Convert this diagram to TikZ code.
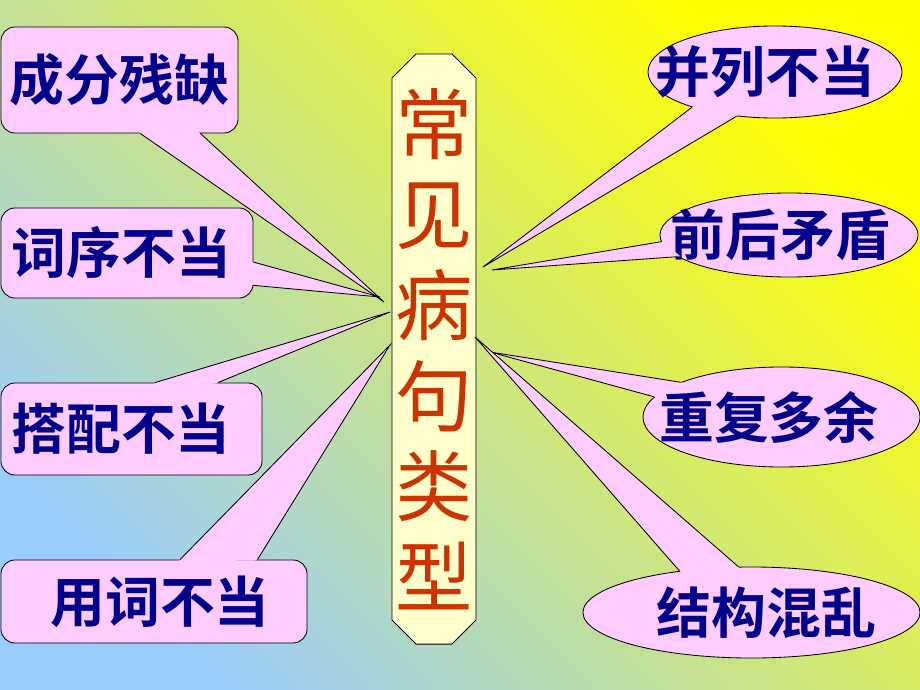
\documentclass[tikz,border=0pt]{standalone}
\usepackage{fontspec}
\usetikzlibrary{shapes.geometric,shapes.misc,calc}
\newfontfamily\cjk{Noto Sans CJK SC}[BoldFont={* Bold}]

\definecolor{bubble}{RGB}{255,204,255}
\definecolor{parch}{RGB}{255,255,204}
\definecolor{inkblue}{RGB}{0,0,140}
\definecolor{inkred}{RGB}{204,51,0}
\definecolor{skyblue}{RGB}{155,205,250}
\definecolor{paleolive}{RGB}{215,232,185}

% text shifted sideways inside a bubble
\newcommand\nudge[2]{\makebox[0pt]{\hspace*{#1}#2\hspace*{-#1}}}
% callout tail: bubble, two base points, tip
\newcommand\tail[4]{%
  \fill[bubble] ($(#2)!0.06cm!(#1.center)$) -- (#2) -- (#4) -- (#3) -- ($(#3)!0.06cm!(#1.center)$) -- cycle;
  \draw[tailline] (#2) -- (#4) -- (#3);}

\begin{document}
\begin{tikzpicture}[x=0.025cm,y=-0.025cm,
  lbox/.style={rectangle,rounded corners=0.35cm,draw=black,line width=0.6pt,fill=bubble,
    inner sep=0pt,text=inkblue,font={\cjk\fontsize{39}{39}\selectfont\bfseries}},
  rbox/.style={ellipse,draw=black,line width=0.6pt,fill=bubble,
    inner sep=0pt,text=inkblue,font={\cjk\fontsize{39}{39}\selectfont\bfseries}},
  tailline/.style={draw=black,line width=0.6pt}]
\useasboundingbox (0,0) rectangle (920,690);
\shade[bottom color=skyblue, middle color=paleolive, top color=yellow, shading angle=-45]
  (0,0) rectangle (920,690);

\node[chamfered rectangle, chamfered rectangle xsep=0.6cm, chamfered rectangle ysep=0.6cm,
  minimum width=2.1cm, minimum height=14.75cm, inner sep=0pt, draw=black, line width=0.6pt,
  fill=parch, text=inkred, font={\cjk\fontsize{55}{64.5}\selectfont}]
  (leixing) at (434,349) {\makebox[0pt]{\parbox[c]{2cm}{\centering 常\\见\\病\\句\\类\\型}}};

% left side
\node[lbox, minimum width=5.925cm, minimum height=2.65cm] (queshi) at (119.5,80) {\nudge{0pt}{成分残缺}};
\coordinate (q1) at ($(queshi.south west)!0.587!(queshi.south east)$);
\coordinate (q2) at ($(queshi.south west)!0.84!(queshi.south east)$);
\coordinate (tq) at (384,302);
\tail{queshi}{q1}{q2}{tq}

\node[lbox, minimum width=6.3cm, minimum height=2.25cm] (cixu) at (127,253) {\nudge{-4pt}{词序不当}};
\coordinate (c1) at ($(cixu.north east)!0.6!(cixu.south east)$);
\coordinate (c2) at ($(cixu.north east)!0.856!(cixu.south east)$);
\coordinate (tc) at (380,297);
\tail{cixu}{c1}{c2}{tc}

\node[lbox, minimum width=6.525cm, minimum height=2.3cm] (dapei) at (131.5,429) {\nudge{-7.4pt}{搭配不当}};
\coordinate (d1) at ($(dapei.north west)!0.59!(dapei.north east)$);
\coordinate (d2) at ($(dapei.north west)!0.83!(dapei.north east)$);
\coordinate (td) at (390,312);
\tail{dapei}{d1}{d2}{td}

\node[lbox, minimum width=7.65cm, minimum height=2.075cm] (yongci) at (154,601.5) {\nudge{4.3pt}{用词不当}};
\coordinate (y1) at ($(yongci.north west)!0.585!(yongci.north east)$);
\coordinate (y2) at ($(yongci.north west)!0.837!(yongci.north east)$);
\coordinate (ty) at (390,345);
\tail{yongci}{y1}{y2}{ty}

% right side
\node[rbox, minimum width=6.35cm, minimum height=2.3cm] (binglie) at (775,72) {\nudge{-7pt}{并列不当}};
\coordinate (tb) at (483,267);
\tail{binglie}{binglie.203.7}{binglie.229.8}{tb}

\node[rbox, minimum width=6.45cm, minimum height=2.1cm] (maodun) at (789,235) {\nudge{-6pt}{前后矛盾}};
\coordinate (tm) at (492,270);
\tail{maodun}{maodun.183.5}{maodun.191.4}{tm}

\node[rbox, minimum width=6.925cm, minimum height=2.5cm] (chongfu) at (781.5,417) {\nudge{-9pt}{重复多余}};
\coordinate (tf) at (490,352);
\tail{chongfu}{chongfu.161}{chongfu.171.7}{tf}

\node[rbox, minimum width=8.425cm, minimum height=2.275cm] (jiegou) at (751.5,612.5) {\nudge{10.6pt}{结构混乱}};
\coordinate (tj) at (475,337);
\tail{jiegou}{jiegou.150.3}{jiegou.106.5}{tj}

\end{tikzpicture}
\end{document}
